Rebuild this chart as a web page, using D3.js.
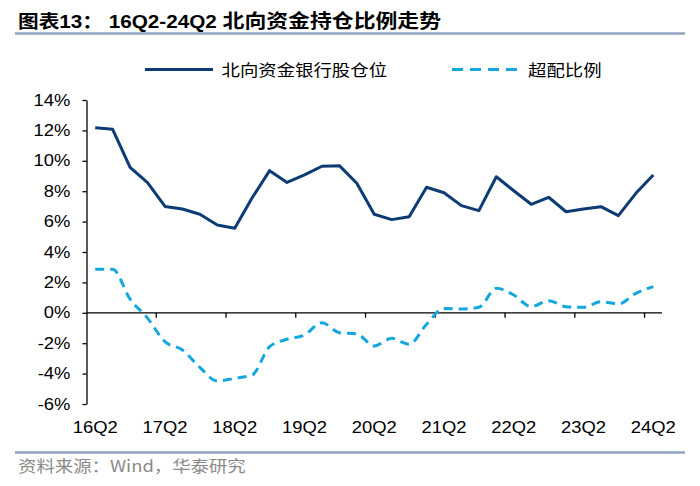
<!DOCTYPE html>
<html>
<head>
<meta charset="utf-8">
<script src="https://cdn.jsdelivr.net/npm/d3@7"></script>
<style>
  html, body { margin: 0; padding: 0; background: #fff; }
  svg { display: block; }
</style>
</head>
<body>
<svg id="chart" width="700" height="486"></svg>
<script>
// ---- data ----
const categories = [
  "16Q2","16Q3","16Q4","17Q1","17Q2","17Q3","17Q4","18Q1","18Q2","18Q3","18Q4",
  "19Q1","19Q2","19Q3","19Q4","20Q1","20Q2","20Q3","20Q4","21Q1","21Q2","21Q3",
  "21Q4","22Q1","22Q2","22Q3","22Q4","23Q1","23Q2","23Q3","23Q4","24Q1","24Q2"
];
const bankPosition = [
  12.18, 12.07, 9.57, 8.56, 7.00, 6.83, 6.48, 5.78, 5.56, 7.57, 9.35,
  8.58, 9.07, 9.64, 9.68, 8.52, 6.48, 6.13, 6.32, 8.26, 7.90, 7.05,
  6.72, 8.95, 8.03, 7.14, 7.60, 6.65, 6.83, 6.98, 6.39, 7.86, 9.07
];
const overweight = [
  2.86, 2.86, 0.90, -0.35, -1.90, -2.45, -3.59, -4.49, -4.31, -4.09, -2.23,
  -1.74, -1.46, -0.65, -1.31, -1.39, -2.18, -1.68, -2.07, -0.75, 0.29, 0.25,
  0.36, 1.61, 1.17, 0.40, 0.80, 0.40, 0.36, 0.73, 0.58, 1.28, 1.72
];
const yTicks = [-6, -4, -2, 0, 2, 4, 6, 8, 10, 12, 14];
const xLabels = ["16Q2","17Q2","18Q2","19Q2","20Q2","21Q2","22Q2","23Q2","24Q2"];
const seriesNames = ["北向资金银行股仓位", "超配比例"];
const titleHead = "图表13： 16Q2-24Q2 ";
const titleTail = "北向资金持仓比例走势";
const sourceText = "资料来源：Wind，华泰研究";

// ---- layout ----
const SX = 1.15; // horizontal text stretch seen in reference
const plot = { left: 86.5, right: 662, top: 100, bottom: 404 };
const navy = "#0D3B73", cyan = "#14A7DE", ruleColor = "#8FA3BE";
const latin = "'Liberation Sans', Arial, 'Noto Sans CJK SC', sans-serif";

const svg = d3.select("#chart");

const x = d3.scaleBand().domain(categories).range([plot.left, plot.right]).paddingInner(0).paddingOuter(0);
const y = d3.scaleLinear().domain([-6, 14]).range([plot.bottom, plot.top]);
const cx = d => x(d) + x.bandwidth() / 2;

function stretchedText(g, tx, ty, str, opts) {
  const t = g.append("text")
    .attr("transform", `translate(${tx},${ty}) scale(${SX},1)`)
    .attr("font-family", opts.family || latin)
    .attr("font-size", opts.size)
    .attr("fill", opts.fill || "#000")
    .attr("text-anchor", opts.anchor || "start")
    .text(str);
  if (opts.weight) t.attr("font-weight", opts.weight);
  if (opts.dy) t.attr("dy", opts.dy);
  return t;
}

// ---- title & rules ----
const title = stretchedText(svg, 18, 27.5, titleHead, { size: 18, weight: "bold", family: latin })
  .attr("xml:space", "preserve").style("white-space", "pre");
title.append("tspan").attr("font-size", 19).text(titleTail);
svg.append("line").attr("x1", 15).attr("x2", 685).attr("y1", 33.5).attr("y2", 33.5)
  .attr("stroke", ruleColor).attr("stroke-width", 2.5);
svg.append("line").attr("x1", 15).attr("x2", 685).attr("y1", 452.5).attr("y2", 452.5)
  .attr("stroke", ruleColor).attr("stroke-width", 2.5);
stretchedText(svg, 18, 472, sourceText, { size: 16, fill: "#8a8a8a", family: "'Noto Sans CJK SC', 'Liberation Sans', sans-serif" });

// ---- legend ----
const lg = svg.append("g");
lg.append("line").attr("x1", 145).attr("x2", 213).attr("y1", 69.5).attr("y2", 69.5)
  .attr("stroke", navy).attr("stroke-width", 3);
stretchedText(lg, 221.5, 70, seriesNames[0], { size: 16, dy: "0.36em", family: "'Noto Sans CJK SC', sans-serif" });
lg.append("line").attr("x1", 452).attr("x2", 517).attr("y1", 69.5).attr("y2", 69.5)
  .attr("stroke", cyan).attr("stroke-width", 3).attr("stroke-dasharray", "11,7");
stretchedText(lg, 528, 70, seriesNames[1], { size: 16, dy: "0.36em", family: "'Noto Sans CJK SC', sans-serif" });

// ---- y axis ----
const yAxis = svg.append("g").attr("transform", `translate(${plot.left},0)`)
  .call(d3.axisLeft(y).tickValues(yTicks).tickFormat(d => d + "%").tickSize(4).tickSizeOuter(0).tickPadding(10));
yAxis.select(".domain").attr("stroke", "#000").attr("stroke-width", 1.3);
yAxis.selectAll(".tick line").attr("stroke", "#000").attr("stroke-width", 1.3);
yAxis.selectAll(".tick text")
  .attr("font-family", latin).attr("font-size", 16).attr("fill", "#000")
  .attr("transform", `scale(${SX},1)`).attr("x", -14);

// ---- zero line with boundary ticks ----
const y0 = y(0);
svg.append("line").attr("x1", plot.left).attr("x2", plot.right).attr("y1", y0).attr("y2", y0)
  .attr("stroke", "#000").attr("stroke-width", 1.3);
categories.forEach((c, i) => {
  if (i > 0 && i % 4 === 0) {
    svg.append("line").attr("x1", x(c)).attr("x2", x(c)).attr("y1", y0).attr("y2", y0 + 5)
      .attr("stroke", "#000").attr("stroke-width", 1.3);
  }
});

// ---- x labels (low position) ----
const xAxis = svg.append("g").attr("transform", `translate(0,${plot.bottom})`)
  .call(d3.axisBottom(x).tickValues(xLabels).tickSize(0).tickPadding(17.5));
xAxis.select(".domain").remove();
xAxis.selectAll(".tick text")
  .attr("font-family", latin).attr("font-size", 16).attr("fill", "#000")
  .attr("transform", `scale(${SX},1)`)
  .each(function () { d3.select(this).attr("x", 0); });

// ---- lines ----
svg.append("path").attr("d", d3.line().x((d, i) => cx(categories[i])).y(d => y(d))(bankPosition))
  .attr("fill", "none").attr("stroke", navy).attr("stroke-width", 3).attr("stroke-linejoin", "round");
svg.append("path").attr("d", d3.line().curve(d3.curveMonotoneX)
    .x((d, i) => cx(categories[i])).y(d => y(d))(overweight))
  .attr("fill", "none").attr("stroke", cyan).attr("stroke-width", 3)
  .attr("stroke-dasharray", "9,6");
</script>
</body>
</html>
